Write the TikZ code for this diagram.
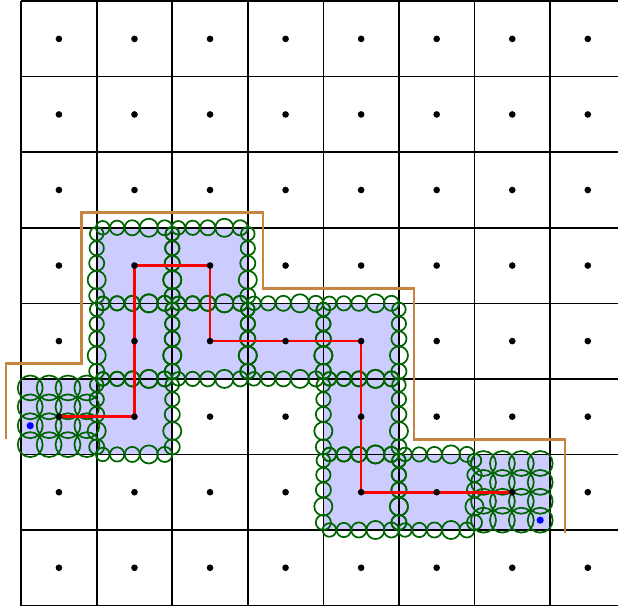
\documentclass[tikz,border=0pt]{standalone}
\usepackage{tikz}
\definecolor{darkgreen}{RGB}{0,100,0}
\definecolor{corridor}{RGB}{198,134,66}
\pgfdeclarelayer{front}
\pgfsetlayers{main,front}

\begin{document}
\begin{tikzpicture}[
  cell/.style={fill=blue!20},
  gridline/.style={draw=black, line width=0.6pt},
  ring/.style={draw=darkgreen, line width=0.65pt},
  hull/.style={draw=corridor, line width=1pt},
  route/.style={draw=red, line width=1pt},
  dot/.style={circle, fill=black, inner sep=0pt, minimum size=2.5pt},
  endpt/.style={circle, fill=blue, inner sep=0pt, minimum size=2.7pt},
]
\clip (-0.28,-0.015) rectangle (7.9,8.015);

\foreach \i/\j in {0/2,1/2,1/3,1/4,2/4,2/3,3/3,4/3,4/2,4/1,5/1,6/1}{
  \fill[cell] (\i,\j) rectangle ++(1,1);
}
\draw[gridline] (0,0) grid (8,8);

% samples on the borders of the cells along the route
\foreach \i/\j in {1/2,1/3,1/4,2/4,2/3,3/3,4/3,4/2,4/1,5/1}{
  \foreach \t/\r in {0.08/0.09,0.27/0.095,0.47/0.10,0.69/0.12,0.90/0.10}{
    \draw[ring] (\i+\t,\j) circle (\r);
    \draw[ring] (\i+\t,\j+1) circle (\r);
    \draw[ring] (\i,\j+1-\t) circle (\r);
    \draw[ring] (\i+1,\j+1-\t) circle (\r);
  }
}
% start and goal cells
\foreach \a in {0.12,0.37,0.62,0.87}{
  \foreach \b in {0.13,0.38,0.63,0.88}{
    \draw[ring] (\a,2+\b) circle (0.165);
    \draw[ring] (6+\a,1+\b) circle (0.165);
  }
}

\draw[hull] (-0.2,2.2) -- (-0.2,3.2) -- (0.8,3.2) -- (0.8,5.2) -- (3.2,5.2) -- (3.2,4.2)
  -- (5.2,4.2) -- (5.2,2.2) -- (7.2,2.2) -- (7.2,0.96);

\begin{pgfonlayer}{front}
\foreach \i in {0,...,7}{
  \foreach \j in {0,...,7}{
    \node[dot] (d\i\j) at (\i+.5,\j+.5) {};
  }
}
\node[endpt] (start) at (0.12,2.38) {};
\node[endpt] (goal) at (6.87,1.13) {};
\end{pgfonlayer}
\draw[route] (d02.center) -- (d12.center) -- (d14.center) -- (d24.center) -- (d23.center)
  -- (d43.center) -- (d41.center) -- (d61.center);
\end{tikzpicture}
\end{document}
